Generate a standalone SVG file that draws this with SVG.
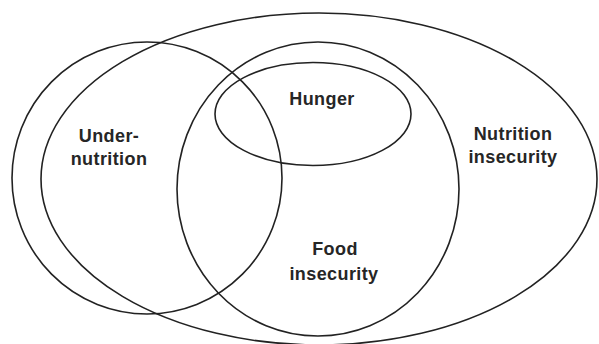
<svg xmlns="http://www.w3.org/2000/svg" width="599" height="344" viewBox="0 0 599 344">
<style>
.s{fill:none;stroke:#222;stroke-width:1.6}
.t{font-family:"Liberation Sans",Arial,sans-serif;font-weight:bold;font-size:18px;letter-spacing:0.4px;fill:#262626;text-anchor:middle}
</style>
<rect width="599" height="344" fill="#fff"/>
<g id="nutrition-insecurity">
<ellipse class="s" cx="319" cy="179" rx="278" ry="166"/>
<text class="t" x="513" y="140">Nutrition</text>
<text class="t" x="513" y="163">insecurity</text>
</g>
<g id="undernutrition">
<ellipse class="s" cx="147" cy="178" rx="135" ry="136"/>
<text class="t" x="109" y="142">Under-</text>
<text class="t" x="109" y="165">nutrition</text>
</g>
<g id="food-insecurity">
<ellipse class="s" cx="318" cy="189" rx="141" ry="147"/>
<text class="t" x="335" y="255">Food</text>
<text class="t" x="334" y="280">insecurity</text>
</g>
<g id="hunger">
<ellipse class="s" cx="313" cy="114" rx="98" ry="51.5"/>
<text class="t" x="322" y="105">Hunger</text>
</g>
<g id="connectors"/>
</svg>
